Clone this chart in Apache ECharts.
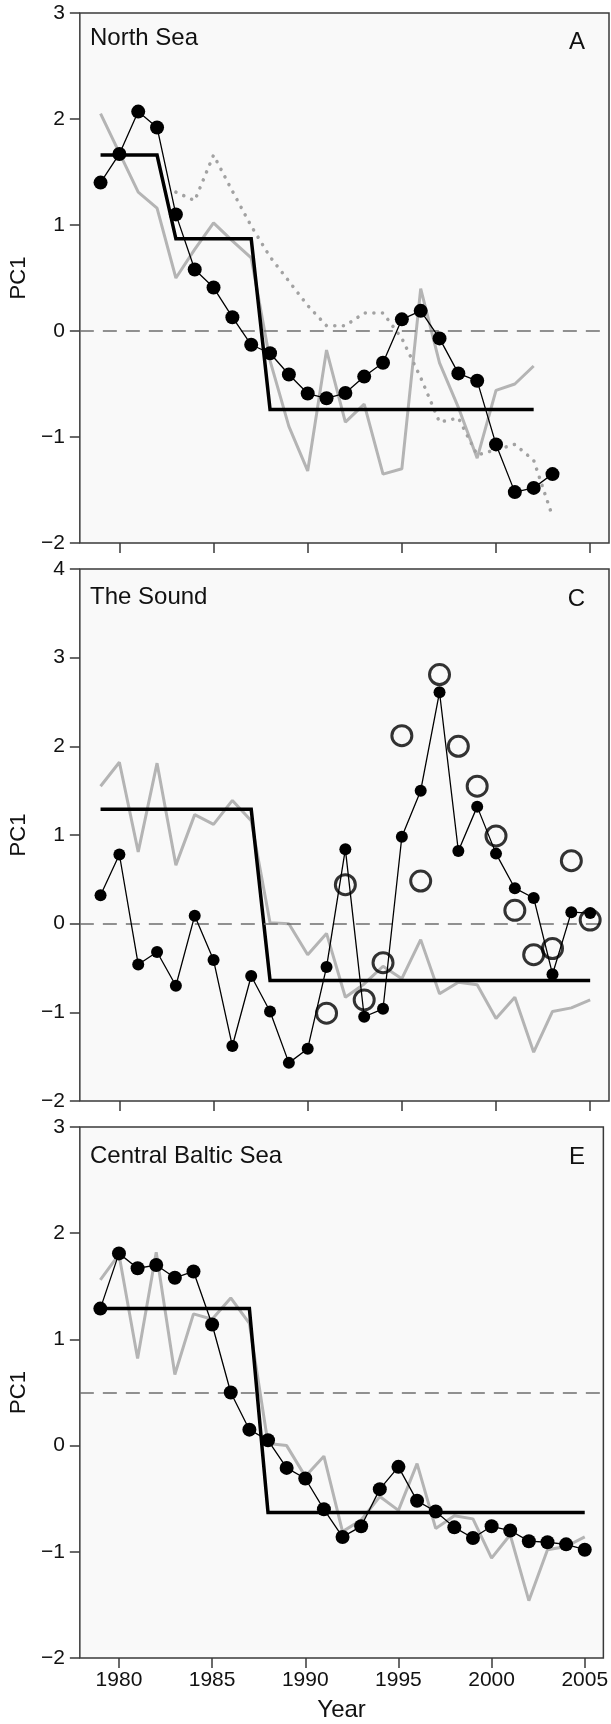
<!DOCTYPE html>
<html>
<head>
<meta charset="utf-8">
<script src="https://cdn.jsdelivr.net/npm/echarts@6/dist/echarts.min.js"></script>
<style>
html,body{margin:0;padding:0;background:#fff;}
#chart{width:611px;height:1724px;}
</style>
</head>
<body>
<div id="chart"></div>
<script>
// ---------- data ----------
const years = [1979,1980,1981,1982,1983,1984,1985,1986,1987,1988,1989,1990,1991,1992,1993,1994,1995,1996,1997,1998,1999,2000,2001,2002,2003,2004,2005];
const yearTicks = [1980,1985,1990,1995,2000,2005];

// Panel A: North Sea
const northSeaPC1 = [1.40,1.67,2.07,1.92,1.10,0.58,0.41,0.13,-0.13,-0.21,-0.41,-0.59,-0.635,-0.585,-0.43,-0.30,0.11,0.19,-0.07,-0.40,-0.47,-1.07,-1.52,-1.48,-1.35]; // 1979-2003
const northSeaGray = [2.05,1.68,1.31,1.16,0.50,0.77,1.02,0.85,0.69,-0.28,-0.90,-1.32,-0.18,-0.86,-0.69,-1.35,-1.30,0.40,-0.30,-0.72,-1.20,-0.56,-0.50,-0.33]; // 1979-2002
const northSeaDotted = [1.31,1.23,1.66,1.32,0.99,0.70,0.47,0.24,0.05,0.05,0.17,0.17,-0.07,-0.44,-0.86,-0.82,-1.17,-1.12,-1.07,-1.22,-1.75]; // 1983-2003
const northSeaStep = [[1979,1.66],[1982,1.66],[1983,0.87],[1987,0.87],[1988,-0.74],[2002,-0.74]];
const northSeaRef = 0;

// Panel C: The Sound
const soundPC1 = [0.32,0.78,-0.46,-0.32,-0.70,0.09,-0.41,-1.38,-0.59,-0.99,-1.57,-1.41,-0.49,0.84,-1.05,-0.96,0.98,1.50,2.61,0.82,1.32,0.79,0.40,0.29,-0.57,0.13,0.12]; // 1979-2005
const soundOpen = [-1.01,0.44,-0.86,-0.44,2.12,0.48,2.81,2.00,1.55,0.99,0.15,-0.35,-0.28,0.71,0.04]; // 1991-2005
const soundGray = [1.55,1.82,0.81,1.81,0.66,1.23,1.12,1.39,1.16,0.01,0.00,-0.35,-0.11,-0.83,-0.68,-0.48,-0.62,-0.18,-0.79,-0.66,-0.69,-1.07,-0.83,-1.45,-0.99,-0.95,-0.86]; // 1979-2005
const soundStep = [[1979,1.29],[1987,1.29],[1988,-0.64],[2005,-0.64]];
const soundRef = 0;

// Panel E: Central Baltic Sea
const balticPC1 = [1.29,1.81,1.67,1.70,1.58,1.64,1.14,0.50,0.15,0.05,-0.21,-0.31,-0.60,-0.86,-0.76,-0.41,-0.20,-0.52,-0.62,-0.77,-0.87,-0.76,-0.80,-0.90,-0.91,-0.93,-0.98]; // 1979-2005
const balticGray = [1.56,1.80,0.82,1.82,0.67,1.24,1.19,1.39,1.15,0.02,0.00,-0.29,-0.10,-0.81,-0.70,-0.48,-0.61,-0.17,-0.78,-0.66,-0.69,-1.06,-0.84,-1.46,-0.98,-0.95,-0.86]; // 1979-2005
const balticStep = [[1979,1.29],[1987,1.29],[1988,-0.63],[2005,-0.63]];
const balticRef = 0.5;

// ---------- helpers ----------
const FONT = '"Liberation Sans", Arial, Helvetica, sans-serif';
function pair(arr, startYear){
  const s = years.indexOf(startYear);
  return arr.map((v,i)=>[years[s+i], v]);
}
const fmtY = v => String(v).replace('-', '\u2212');
const fmtX = v => String(v);

const panels = [
  {top:13, height:530, ymin:-2, ymax:3, labels:false},
  {top:569, height:532, ymin:-2, ymax:4, labels:false},
  {top:1127, height:531, ymin:-2, ymax:3, labels:true}
];

const grids = panels.map(p=>({
  left:77, right:2, top:p.top, height:p.height,
  show:true, backgroundColor:'#f9f9f9', borderColor:'#3a3a3a', borderWidth:1.5
}));

const xAxes = panels.map((p,i)=>({
  type:'value', gridIndex:i, min:1977.9, max:2006, position:'bottom',
  axisLine:{show:false, onZero:false},
  splitLine:{show:false},
  axisTick:{show:true, inside:false, length:10, customValues:yearTicks, lineStyle:{color:'#3a3a3a', width:1.5}},
  axisLabel:{show:p.labels, customValues:yearTicks, formatter:fmtX, margin:12, fontSize:21, color:'#111', fontFamily:FONT},
  name: p.labels ? 'Year' : '',
  nameLocation:'middle', nameGap:40,
  nameTextStyle:{fontSize:24, color:'#111', fontFamily:FONT}
}));

const yAxes = panels.map((p,i)=>({
  type:'value', gridIndex:i, min:p.ymin, max:p.ymax, interval:1,
  axisLine:{show:false, onZero:false},
  splitLine:{show:false},
  axisTick:{show:true, inside:false, length:10, lineStyle:{color:'#3a3a3a', width:1.5}},
  axisLabel:{margin:15, fontSize:21, color:'#111', fontFamily:FONT, formatter:fmtY},
  name:'PC1', nameLocation:'middle', nameGap:44, nameRotate:90,
  nameTextStyle:{fontSize:22, color:'#111', fontFamily:FONT}
}));

function refLine(v){
  return {silent:true, symbol:'none', label:{show:false},
    lineStyle:{type:[14,9], color:'#6e6e6e', width:1.5},
    data:[{yAxis:v}]};
}
function grayLine(i, data, ref){
  return {type:'line', xAxisIndex:i, yAxisIndex:i, data:data, symbol:'none',
    lineStyle:{color:'#b4b4b4', width:3}, z:2,
    markLine: refLine(ref)};
}
function stepLine(i, data){
  return {type:'line', xAxisIndex:i, yAxisIndex:i, data:data, symbol:'none',
    lineStyle:{color:'#000', width:3.5, join:'miter'}, z:4};
}
function dotLine(i, data, size){
  return {type:'line', xAxisIndex:i, yAxisIndex:i, data:data, symbol:'circle', symbolSize:size,
    itemStyle:{color:'#000'}, lineStyle:{color:'#000', width:1.3}, z:5};
}

const series = [
  grayLine(0, pair(northSeaGray,1979), northSeaRef),
  {type:'line', xAxisIndex:0, yAxisIndex:0, data:pair(northSeaDotted,1983), symbol:'none',
    lineStyle:{color:'#a2a2a2', width:3.5, type:[0.1,8.5], cap:'round'}, z:3},
  stepLine(0, northSeaStep),
  dotLine(0, pair(northSeaPC1,1979), 14),

  grayLine(1, pair(soundGray,1979), soundRef),
  stepLine(1, soundStep),
  dotLine(1, pair(soundPC1,1979), 12),
  {type:'scatter', xAxisIndex:1, yAxisIndex:1, data:pair(soundOpen,1991), symbol:'circle', symbolSize:20,
    itemStyle:{color:'rgba(0,0,0,0)', borderColor:'#000', borderWidth:3}, z:6},

  grayLine(2, pair(balticGray,1979), balticRef),
  stepLine(2, balticStep),
  dotLine(2, pair(balticPC1,1979), 14)
];

function txt(t, pos, top){
  return Object.assign({type:'text', top:top, z:10,
    style:{text:t, font:'24px ' + FONT, fill:'#111'}}, pos);
}
const graphic = [
  txt('North Sea', {left:90}, 26),
  txt('A', {right:26}, 30),
  txt('The Sound', {left:90}, 585),
  txt('C', {right:26}, 587),
  txt('Central Baltic Sea', {left:90}, 1144),
  txt('E', {right:26}, 1145)
];

const chart = echarts.init(document.getElementById('chart'), null, {renderer:'canvas'});
chart.setOption({
  animation:false,
  backgroundColor:'#ffffff',
  grid:grids, xAxis:xAxes, yAxis:yAxes, series:series, graphic:graphic
});
</script>
</body>
</html>
